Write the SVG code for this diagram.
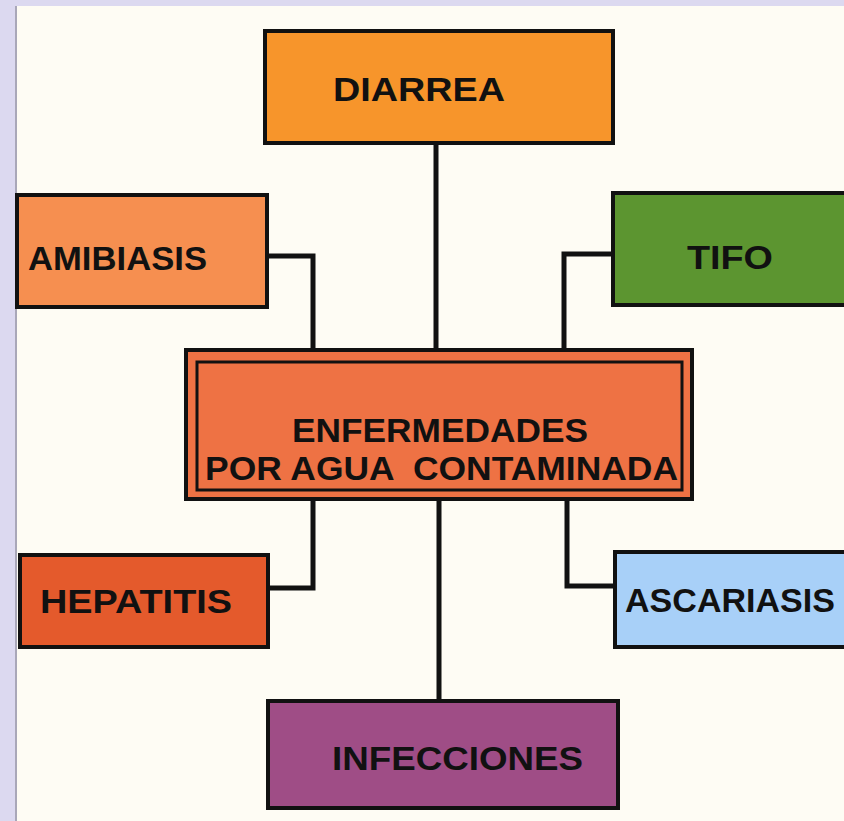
<svg xmlns="http://www.w3.org/2000/svg" width="844" height="821" viewBox="0 0 844 821">
<style>
.box{stroke:#111;stroke-width:4}
.lbl{font-family:"Liberation Sans",Arial,sans-serif;font-weight:bold;fill:#111;font-size:34px}
.conn{fill:none;stroke:#111;stroke-width:5;stroke-linejoin:miter}
</style>
<rect x="0" y="0" width="844" height="821" fill="#dcd9f0"/>
<rect x="16" y="6" width="828" height="815" fill="#fefcf4"/>
<line x1="16" y1="6" x2="16" y2="821" stroke="#a9a7b8" stroke-width="2"/>
<g id="connectors">
<path class="conn" d="M436 143 V351"/>
<path class="conn" d="M267 256 H313 V351"/>
<path class="conn" d="M613 254 H564 V351"/>
<path class="conn" d="M268 588 H313 V499"/>
<path class="conn" d="M615 586 H567 V499"/>
<path class="conn" d="M439 499 V701"/>
</g>
<g id="diarrea">
<rect class="box" x="265" y="31" width="348" height="112" fill="#f7952b"/>
<text class="lbl" x="333" y="101" textLength="172" lengthAdjust="spacingAndGlyphs" font-size="32">DIARREA</text>
</g>
<g id="amibiasis">
<rect class="box" x="17" y="195" width="250" height="112" fill="#f68f50"/>
<text class="lbl" x="28" y="270" textLength="179" lengthAdjust="spacingAndGlyphs">AMIBIASIS</text>
</g>
<g id="tifo">
<rect class="box" x="613" y="193" width="235" height="112" fill="#5c9530"/>
<text class="lbl" x="687" y="269" textLength="86" lengthAdjust="spacingAndGlyphs">TIFO</text>
</g>
<g id="enfermedades">
<rect class="box" x="186" y="350" width="506" height="149" fill="#ee7244"/>
<rect x="197" y="362" width="485" height="128" fill="none" stroke="#111" stroke-width="3"/>
<text class="lbl" x="292" y="442" textLength="296" lengthAdjust="spacingAndGlyphs" font-size="37">ENFERMEDADES</text>
<text class="lbl" x="205" y="480" textLength="473" lengthAdjust="spacingAndGlyphs" font-size="37" xml:space="preserve">POR AGUA  CONTAMINADA</text>
</g>
<g id="hepatitis">
<rect class="box" x="20" y="555" width="248" height="92" fill="#e45a2c"/>
<text class="lbl" x="40" y="613" textLength="192" lengthAdjust="spacingAndGlyphs">HEPATITIS</text>
</g>
<g id="ascariasis">
<rect class="box" x="615" y="552" width="233" height="95" fill="#a8d0f8"/>
<text class="lbl" x="625" y="612" textLength="210" lengthAdjust="spacingAndGlyphs" font-size="36">ASCARIASIS</text>
</g>
<g id="infecciones">
<rect class="box" x="268" y="701" width="350" height="107" fill="#9f4d86"/>
<text class="lbl" x="332" y="770" textLength="251" lengthAdjust="spacingAndGlyphs" font-size="37">INFECCIONES</text>
</g>
</svg>
